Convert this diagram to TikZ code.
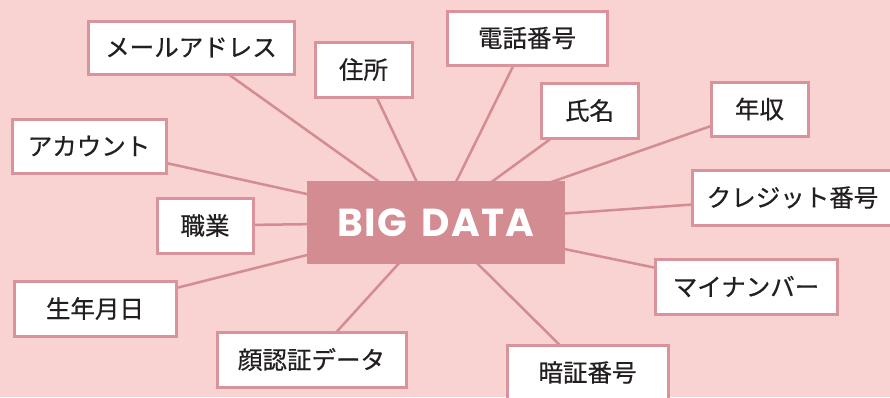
\documentclass[tikz,border=0pt]{standalone}
\usepackage{fontspec}
\setmainfont{Noto Sans CJK JP}[FakeBold=0.6]
\newfontfamily\poppins{Poppins}[LetterSpace=3]
\definecolor{bgpink}{RGB}{249,210,210}
\definecolor{rose}{RGB}{212,140,147}
\definecolor{boxline}{RGB}{217,147,154}
\definecolor{ink}{RGB}{35,31,32}
\pgfdeclarelayer{bglayer}
\pgfdeclarelayer{linelayer}
\pgfsetlayers{bglayer,linelayer,main}
\tikzset{
  item/.style={draw=boxline, line width=3pt, fill=white, text=ink, inner sep=0pt,
    minimum height=55pt, font=\fontsize{24.5pt}{28pt}\selectfont},
  core/.style={fill=rose, text=white, inner sep=0pt, minimum width=258pt, minimum height=83pt,
    font=\poppins\bfseries\fontsize{39pt}{44pt}\selectfont},
  link/.style={draw=rose, line width=2.5pt}
}
\begin{document}
\begin{tikzpicture}[x=1pt,y=-1pt]
\begin{pgfonlayer}{bglayer}
\fill[bgpink] (0,0) rectangle (890,397);
\end{pgfonlayer}
\useasboundingbox (0,0) rectangle (890,397);
\node[core] (big) at (436,222.5) {BIG\hspace{15pt}DATA};
\node[item, minimum width=206pt, minimum height=53pt] (mail) at (191,47.5) {メールアドレス};
\node[item, minimum width=97pt] (addr) at (363.5,69.5) {住所};
\node[item, minimum width=160pt, minimum height=54pt] (tel) at (527,38) {電話番号};
\node[item, minimum width=97pt] (name) at (589.5,110.5) {氏名};
\node[item, minimum width=97pt, minimum height=54pt] (income) at (759.5,109) {年収};
\node[item, minimum width=154pt, minimum height=54pt] (account) at (89,146) {アカウント};
\node[item, minimum width=201pt] (credit) at (792.5,197.5) {クレジット番号};
\node[item, minimum width=96pt] (job) at (205,225.5) {職業};
\node[item, minimum width=162pt] (birth) at (95,308.5) {生年月日};
\node[item, minimum width=189pt] (face) at (311.5,359.5) {顔認証データ};
\node[item, minimum width=182pt] (mynum) at (746,286.5) {マイナンバー};
\node[item, minimum width=161pt] (pin) at (587.5,372.5) {暗証番号};
\begin{pgfonlayer}{linelayer}
\foreach \n in {mail,addr,tel,name,income,account,credit,job,birth,face,mynum,pin}
  \draw[link] (big.center) -- (\n.center);
\end{pgfonlayer}
\end{tikzpicture}
\end{document}
